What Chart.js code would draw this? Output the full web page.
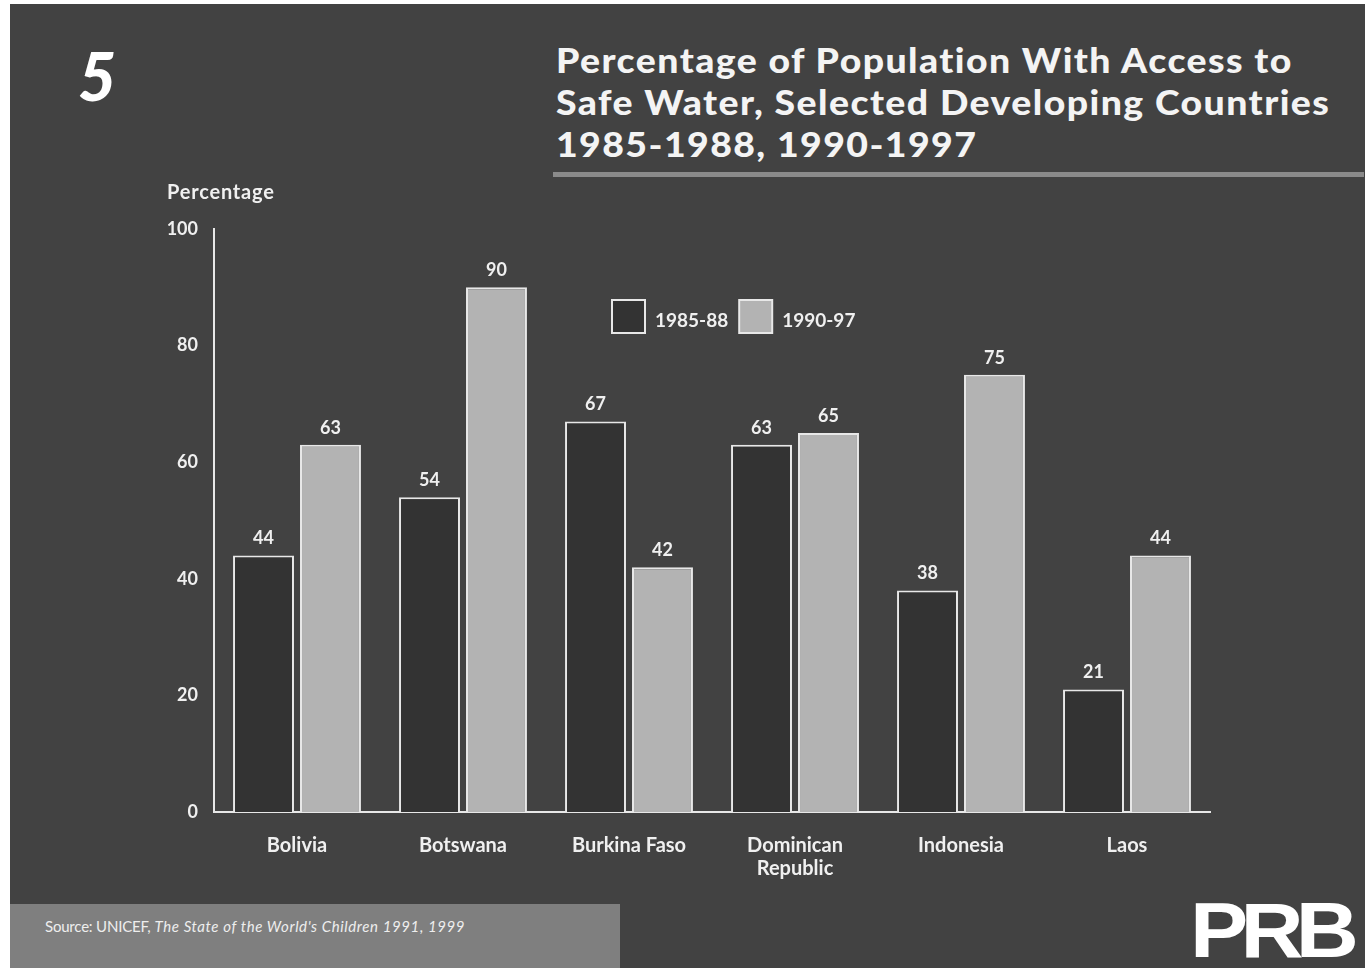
<!DOCTYPE html>
<html>
<head>
<meta charset="utf-8">
<script src="https://cdn.jsdelivr.net/npm/chart.js@4"></script>
<style>
  html, body { margin: 0; padding: 0; background: #fff; }
  body { width: 1368px; height: 968px; position: relative; overflow: hidden; font-family: Lato, "Open Sans", sans-serif; }
  #panel { position: absolute; left: 10px; top: 4px; width: 1355px; height: 964px; background: #424242; }
  #canvas { position: absolute; left: 0; top: 0; }
  #num { position: absolute; left: 78px; top: 36px; color: #fff; font: italic 900 66px Lato, sans-serif; }
  #title { position: absolute; left: 556px; top: 39px; color: #f4f4f4; font: 900 34px Lato, sans-serif; line-height: 42px; letter-spacing: 1.3px; transform: scaleX(1.1); transform-origin: left top; white-space: nowrap; }
  #rule { position: absolute; left: 553px; top: 172px; width: 811px; height: 5px; background: #8a8a8a; }
  #source { position: absolute; left: 10px; top: 904px; width: 610px; height: 64px; background: #7f7f7f; }
  #source span { position: absolute; left: 35px; top: 13px; color: #eee; font: 15px Lato, sans-serif; white-space: nowrap; letter-spacing: -0.2px; }
  #source i { letter-spacing: 0.6px; margin-left: 4px; }
  #logo { position: absolute; left: 1190px; top: 885px; color: #fff; font: 900 78px "Liberation Sans", sans-serif; letter-spacing: -7px; transform: scaleX(1.12); transform-origin: left top; }
</style>
</head>
<body>
<div id="panel"></div>
<div id="num">5</div>
<div id="title">Percentage of Population With Access to<br>Safe Water, Selected Developing Countries<br>1985-1988, 1990-1997</div>
<div id="rule"></div>
<div id="source"><span>Source: UNICEF,<i>The State of the World's Children 1991, 1999</i></span></div>
<div id="logo">PRB</div>
<canvas id="canvas" width="1368" height="968"></canvas>
<script>
var categories = ['Bolivia', 'Botswana', 'Burkina Faso', ['Dominican', 'Republic'], 'Indonesia', 'Laos'];
var series1985 = [44, 54, 67, 63, 38, 21];
var series1990 = [63, 90, 42, 65, 75, 44];
var seriesNames = ['1985-88', '1990-97'];
var yTicks = [0, 20, 40, 60, 80, 100];

var textColor = '#f0f0f0';

var valueLabels = {
  id: 'valueLabels',
  afterDatasetsDraw: function (chart) {
    var ctx = chart.ctx;
    ctx.save();
    ctx.fillStyle = textColor;
    ctx.font = 'bold 18px Lato, sans-serif';
    ctx.textAlign = 'center';
    ctx.textBaseline = 'bottom';
    chart.data.datasets.forEach(function (ds, i) {
      chart.getDatasetMeta(i).data.forEach(function (bar, j) {
        ctx.fillText(ds.data[j], bar.x, bar.y - 8);
      });
    });
    ctx.restore();
  }
};

var extras = {
  id: 'extras',
  afterDraw: function (chart) {
    var ctx = chart.ctx;
    ctx.save();
    // axis title
    ctx.fillStyle = textColor;
    ctx.font = 'bold 20px Lato, sans-serif';
    ctx.letterSpacing = '0.8px';
    ctx.textAlign = 'left';
    ctx.textBaseline = 'middle';
    ctx.fillText('Percentage', 167, 193);
    ctx.letterSpacing = '0px';
    // legend
    var x = 612, y = 300, box = 33;
    ctx.font = 'bold 19px Lato, sans-serif';
    chart.data.datasets.forEach(function (ds) {
      ctx.fillStyle = ds.backgroundColor;
      ctx.fillRect(x, y, box, box);
      ctx.strokeStyle = ds.borderColor;
      ctx.lineWidth = 2;
      ctx.strokeRect(x, y, box, box);
      ctx.fillStyle = textColor;
      ctx.fillText(ds.label, x + box + 10, y + box / 2 + 4);
      x += box + 10 + ctx.measureText(ds.label).width + 11;
    });
    ctx.restore();
  }
};

new Chart(document.getElementById('canvas'), {
  type: 'bar',
  data: {
    labels: categories,
    datasets: [
      { label: seriesNames[0], data: series1985, backgroundColor: '#333333', borderColor: '#e8e8e8', borderWidth: 2 },
      { label: seriesNames[1], data: series1990, backgroundColor: '#b3b3b3', borderColor: '#e8e8e8', borderWidth: 2 }
    ]
  },
  options: {
    responsive: false,
    animation: false,
    categoryPercentage: 0.807,
    barPercentage: 0.91,
    layout: { padding: { left: 0, right: 158, top: 229, bottom: 0 } },
    plugins: { legend: { display: false }, tooltip: { enabled: false } },
    scales: {
      x: {
        grid: { display: false, drawTicks: false },
        border: { display: true, color: '#e8e8e8', width: 2 },
        ticks: { color: textColor, font: { family: 'Lato, sans-serif', weight: 'bold', size: 20, lineHeight: 1.15 }, padding: 22, maxRotation: 0 },
        afterFit: function (s) { s.height = 156; }
      },
      y: {
        min: 0, max: 100,
        afterBuildTicks: function (s) { s.ticks = yTicks.map(function (v) { return { value: v }; }); },
        grid: { display: false, drawTicks: false },
        border: { display: true, color: '#e8e8e8', width: 2 },
        ticks: { color: textColor, font: { family: 'Lato, sans-serif', weight: 'bold', size: 18 }, padding: 16 },
        afterFit: function (s) { s.width = 214; }
      }
    }
  },
  plugins: [valueLabels, extras]
});
</script>
</body>
</html>
